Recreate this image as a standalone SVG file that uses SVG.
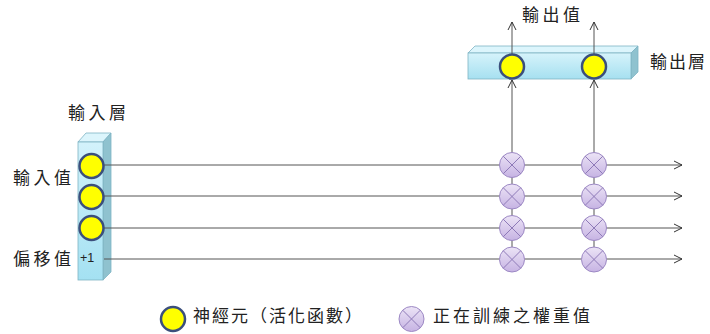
<svg xmlns="http://www.w3.org/2000/svg" width="710" height="334" viewBox="0 0 710 334">
<style>
.lbl{font-family:"Noto Sans CJK TC","Noto Sans CJK SC",sans-serif;font-size:17px;fill:#222;letter-spacing:3.5px}
.leg{font-family:"Noto Sans CJK TC","Noto Sans CJK SC",sans-serif;font-size:17px;fill:#222}
.ln{stroke:#555;stroke-width:1;fill:none}
.neuron{fill:#ffff00;stroke:#3b4f7c;stroke-width:2.5}
.w circle{fill:url(#gw);stroke:#9c88c4;stroke-width:1}
.w path{stroke:#8e7ab8;stroke-width:1;fill:none}
.front{stroke:#7fb4c4;stroke-width:0.8}
.side{fill:#8fc2cf;stroke:#7fb4c4;stroke-width:0.8}
.top{fill:#dcf5fc;stroke:#7fb4c4;stroke-width:0.8}
</style>
<defs>
<linearGradient id="gw" x1="0" y1="0" x2="0" y2="1">
<stop offset="0" stop-color="#ece4f6"/><stop offset="1" stop-color="#c6b3e3"/>
</linearGradient>
<linearGradient id="gbv" x1="0" y1="0" x2="0" y2="1">
<stop offset="0" stop-color="#d3f2fb"/><stop offset="1" stop-color="#a4e1f2"/>
</linearGradient>
<linearGradient id="gbo" x1="0" y1="0" x2="0" y2="1">
<stop offset="0" stop-color="#d6f3fb"/><stop offset="1" stop-color="#a6e0f0"/>
</linearGradient>
<marker id="ar" viewBox="0 0 10 10" refX="9" refY="5" markerWidth="10" markerHeight="10" markerUnits="userSpaceOnUse" orient="auto">
<path d="M1,1 L9,5 L1,9" fill="none" stroke="#333" stroke-width="1"/>
</marker>
</defs>
<rect width="710" height="334" fill="#fff"/>

<g id="input-layer">
<polygon class="top" points="78,142 86,133 111,133 103,142"/>
<polygon class="side" points="103,142 111,133 111,272 103,280"/>
<rect class="front" x="78" y="142" width="25" height="138" fill="url(#gbv)"/>
<text x="80" y="261.5" font-family="Liberation Sans, sans-serif" font-size="12.5" fill="#222">+1</text>
</g>

<g id="output-layer">
<polygon class="top" points="468,53 475,46 638,46 631,53"/>
<polygon class="side" points="631,53 638,46 638,72 631,79"/>
<rect class="front" x="468" y="53" width="163" height="26" fill="url(#gbo)"/>
</g>

<g id="connectors">
<line class="ln" x1="104" y1="165" x2="682" y2="165" marker-end="url(#ar)"/>
<line class="ln" x1="104" y1="196" x2="682" y2="196" marker-end="url(#ar)"/>
<line class="ln" x1="104" y1="228" x2="682" y2="228" marker-end="url(#ar)"/>
<line class="ln" x1="104" y1="259" x2="682" y2="259" marker-end="url(#ar)"/>
<line class="ln" x1="512" y1="259" x2="512" y2="80" marker-end="url(#ar)"/>
<line class="ln" x1="594" y1="259" x2="594" y2="80" marker-end="url(#ar)"/>
<line class="ln" x1="512" y1="54" x2="512" y2="22" marker-end="url(#ar)"/>
<line class="ln" x1="594" y1="54" x2="594" y2="22" marker-end="url(#ar)"/>
</g>

<g id="input-neurons">
<circle class="neuron" cx="91.5" cy="166" r="12"/>
<circle class="neuron" cx="91.5" cy="197" r="12"/>
<circle class="neuron" cx="91.5" cy="228" r="12"/>
</g>

<g id="output-neurons">
<circle class="neuron" cx="512" cy="66.5" r="12"/>
<circle class="neuron" cx="594" cy="66.5" r="12"/>
</g>

<g id="weights">
<g class="w" transform="translate(512,165)"><circle r="12.5"/><path d="M-8.8,-8.8 L8.8,8.8 M8.8,-8.8 L-8.8,8.8"/></g>
<g class="w" transform="translate(512,196.5)"><circle r="12.5"/><path d="M-8.8,-8.8 L8.8,8.8 M8.8,-8.8 L-8.8,8.8"/></g>
<g class="w" transform="translate(512,228)"><circle r="12.5"/><path d="M-8.8,-8.8 L8.8,8.8 M8.8,-8.8 L-8.8,8.8"/></g>
<g class="w" transform="translate(512,259.5)"><circle r="12.5"/><path d="M-8.8,-8.8 L8.8,8.8 M8.8,-8.8 L-8.8,8.8"/></g>
<g class="w" transform="translate(594,165)"><circle r="12.5"/><path d="M-8.8,-8.8 L8.8,8.8 M8.8,-8.8 L-8.8,8.8"/></g>
<g class="w" transform="translate(594,196.5)"><circle r="12.5"/><path d="M-8.8,-8.8 L8.8,8.8 M8.8,-8.8 L-8.8,8.8"/></g>
<g class="w" transform="translate(594,228)"><circle r="12.5"/><path d="M-8.8,-8.8 L8.8,8.8 M8.8,-8.8 L-8.8,8.8"/></g>
<g class="w" transform="translate(594,259.5)"><circle r="12.5"/><path d="M-8.8,-8.8 L8.8,8.8 M8.8,-8.8 L-8.8,8.8"/></g>
</g>

<g id="labels">
<text class="lbl" x="68" y="118.5">輸入層</text>
<text class="lbl" x="13" y="183.5">輸入值</text>
<text class="lbl" x="13" y="264.5">偏移值</text>
<text class="lbl" x="522" y="20.5">輸出值</text>
<text class="lbl" x="650 669 688" y="68" letter-spacing="0">輸出層</text>
</g>

<g id="legend">
<circle class="neuron" cx="173" cy="319" r="12"/>
<text class="leg" x="193" y="321.5" letter-spacing="2">神經元（活化函數）</text>
<g class="w" transform="translate(411.5,319)"><circle r="12.5"/><path d="M-8.8,-8.8 L8.8,8.8 M8.8,-8.8 L-8.8,8.8"/></g>
<text class="leg" x="433" y="321.5" letter-spacing="3">正在訓練之權重值</text>
</g>
</svg>
